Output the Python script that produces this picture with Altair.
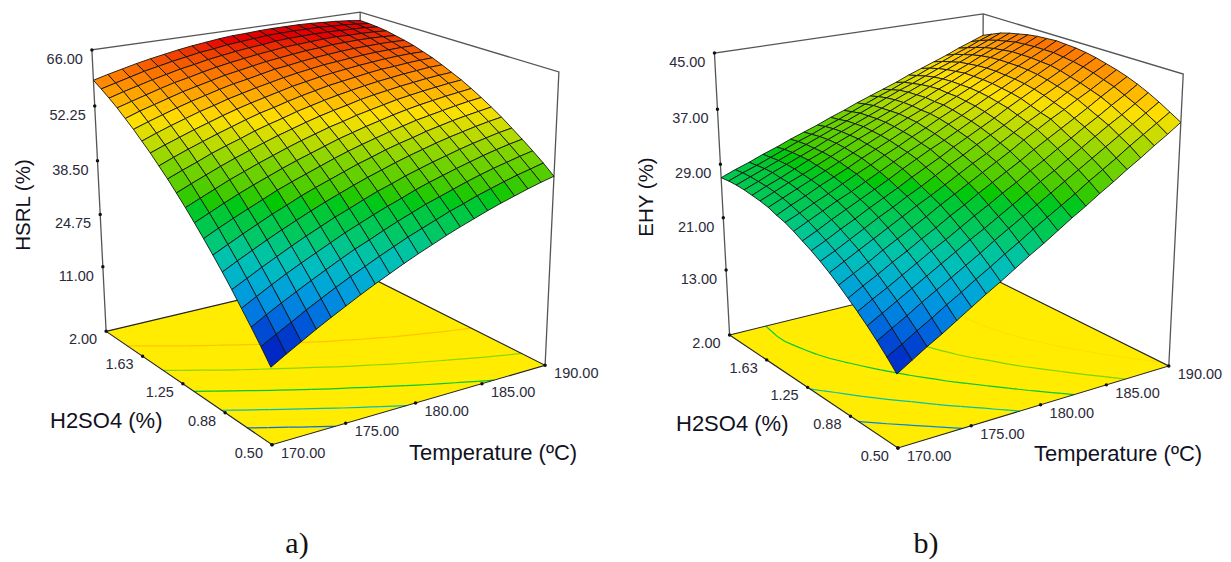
import altair as alt
import numpy as np
import pandas as pd

TEMPS = ["170.00", "175.00", "180.00", "185.00", "190.00"]
ACIDS = ["0.50", "0.88", "1.25", "1.63", "2.00"]
HSRL_TICKS = ["66.00", "52.25", "38.50", "24.75", "11.00"]
EHY_TICKS = ["45.00", "37.00", "29.00", "21.00", "13.00"]
HSRL_LEVELS = [20.52, 29.02, 37.52, 46.02, 54.52]
EHY_LEVELS = [18.72, 23.92, 29.02, 34.02, 39.02]

# rows: H2SO4 0.50 -> 2.00, columns: temperature 170 -> 190
HSRL = [
[12,14.1,16.1,18.1,20,21.8,23.6,25.3,26.9,28.5,30,31.4,32.8,34.1,35.3,36.5,37.6,38.6,39.6,40.5,41.3],
[15.4,17.4,19.3,21.3,23.1,24.9,26.6,28.2,29.8,31.3,32.8,34.1,35.4,36.7,37.8,39.0,40.0,41.0,41.9,42.7,43.5],
[18.6,20.6,22.5,24.3,26.1,27.8,29.5,31.1,32.5,34.0,35.4,36.7,38.0,39.1,40.2,41.3,42.3,43.2,44.0,44.8,45.5],
[21.7,23.6,25.5,27.3,29.0,30.6,32.2,33.8,35.2,36.6,37.9,39.1,40.4,41.5,42.5,43.5,44.4,45.3,46.1,46.8,47.4],
[24.8,26.6,28.4,30.1,31.8,33.4,34.9,36.4,37.7,39.1,40.4,41.5,42.7,43.7,44.7,45.6,46.5,47.3,48.0,48.7,49.2],
[27.7,29.5,31.2,32.9,34.5,36.0,37.5,38.9,40.2,41.5,42.7,43.8,44.9,45.9,46.8,47.7,48.5,49.2,49.9,50.5,51.0],
[30.5,32.2,33.9,35.5,37.1,38.5,40.0,41.3,42.5,43.7,44.9,45.9,47.0,47.9,48.7,49.6,50.3,51.0,51.6,52.1,52.6],
[33.2,34.9,36.5,38.0,39.5,41.0,42.3,43.5,44.7,45.9,47.0,48.0,48.9,49.8,50.6,51.4,52.0,52.6,53.2,53.7,54.1],
[35.8,37.4,39.0,40.5,41.9,43.2,44.5,45.7,46.8,47.9,49.0,49.9,50.8,51.6,52.4,53.1,53.7,54.2,54.7,55.1,55.5],
[38.3,39.8,41.3,42.8,44.1,45.4,46.6,47.8,48.9,49.9,50.9,51.7,52.6,53.3,54.0,54.7,55.2,55.7,56.1,56.5,56.8],
[40.7,42.2,43.6,45.0,46.3,47.5,48.7,49.8,50.8,51.8,52.7,53.5,54.2,55.0,55.6,56.1,56.6,57.0,57.4,57.7,57.9],
[43.0,44.4,45.7,47.1,48.3,49.4,50.6,51.6,52.5,53.5,54.3,55.1,55.8,56.4,57.0,57.5,57.9,58.3,58.6,58.9,59.0],
[45.1,46.5,47.8,49.0,50.2,51.3,52.4,53.4,54.2,55.1,55.9,56.6,57.3,57.8,58.3,58.8,59.2,59.4,59.7,59.9,60.0],
[47.2,48.5,49.7,50.9,52.0,53.1,54.1,55.0,55.8,56.6,57.4,58.0,58.6,59.1,59.5,59.9,60.2,60.5,60.7,60.8,60.8],
[49.1,50.4,51.6,52.7,53.8,54.7,55.7,56.5,57.3,58.0,58.7,59.3,59.8,60.3,60.6,60.9,61.2,61.4,61.5,61.6,61.6],
[51.0,52.2,53.3,54.4,55.4,56.3,57.2,58.0,58.6,59.3,60.0,60.4,60.9,61.3,61.6,61.9,62.1,62.2,62.3,62.3,62.2],
[52.7,53.9,54.9,55.9,56.9,57.7,58.5,59.3,59.9,60.5,61.1,61.5,61.9,62.3,62.5,62.8,62.9,63.0,63.0,62.9,62.7],
[54.4,55.4,56.4,57.4,58.3,59.0,59.8,60.5,61.1,61.6,62.1,62.5,62.9,63.1,63.3,63.5,63.6,63.5,63.5,63.4,63.2],
[55.9,56.9,57.8,58.7,59.5,60.3,60.9,61.6,62.1,62.6,63.0,63.3,63.7,63.9,64.0,64.1,64.1,64.0,63.9,63.8,63.5],
[57.3,58.2,59.1,60.0,60.7,61.4,62.0,62.6,63.0,63.5,63.8,64.1,64.4,64.5,64.6,64.6,64.6,64.4,64.3,64.0,63.7],
[58.6,59.5,60.3,61.1,61.8,62.4,63.0,63.5,63.9,64.3,64.6,64.7,64.9,65.0,65.0,65.0,64.9,64.7,64.5,64.2,63.8],
]
EHY = [
[13.1,14.4,15.7,16.9,18.2,19.5,20.8,22.0,23.3,24.6,25.8,27.1,28.4,29.6,30.9,32.1,33.4,34.6,35.9,37.1,38.4],
[14.6,15.8,17.1,18.3,19.6,20.8,22.1,23.3,24.6,25.8,27.1,28.3,29.5,30.7,32.0,33.2,34.4,35.7,36.9,38.1,39.3],
[16.0,17.2,18.4,19.7,20.9,22.1,23.3,24.5,25.8,27.0,28.2,29.4,30.6,31.8,33.0,34.2,35.4,36.6,37.8,39.0,40.2],
[17.3,18.5,19.7,20.9,22.1,23.3,24.5,25.7,26.8,28.0,29.2,30.4,31.6,32.7,33.9,35.1,36.3,37.5,38.6,39.8,41.0],
[18.5,19.7,20.8,22.0,23.2,24.4,25.5,26.7,27.9,29.0,30.2,31.3,32.5,33.6,34.8,35.9,37.1,38.2,39.4,40.5,41.7],
[19.6,20.8,21.9,23.1,24.2,25.4,26.5,27.7,28.8,30.0,31.1,32.2,33.3,34.5,35.6,36.7,37.8,38.9,40.1,41.2,42.3],
[20.7,21.8,22.9,24.1,25.2,26.3,27.4,28.6,29.7,30.8,31.9,33.0,34.1,35.3,36.4,37.5,38.5,39.6,40.6,41.7,42.8],
[21.7,22.8,23.9,25.0,26.1,27.2,28.3,29.3,30.4,31.5,32.6,33.6,34.7,35.8,36.9,37.9,39.0,40.1,41.1,42.2,43.2],
[22.6,23.6,24.7,25.8,26.9,27.9,29.0,30.0,31.1,32.2,33.2,34.3,35.3,36.3,37.4,38.4,39.5,40.5,41.5,42.6,43.6],
[23.4,24.4,25.5,26.5,27.6,28.6,29.6,30.7,31.7,32.7,33.8,34.8,35.8,36.8,37.9,38.9,39.9,40.9,41.9,42.9,43.9],
[24.1,25.1,26.2,27.2,28.2,29.2,30.2,31.3,32.3,33.3,34.2,35.2,36.2,37.2,38.2,39.2,40.2,41.2,42.2,43.1,44.1],
[24.8,25.8,26.8,27.8,28.7,29.7,30.7,31.7,32.7,33.6,34.6,35.6,36.5,37.5,38.5,39.4,40.4,41.4,42.3,43.3,44.2],
[25.4,26.3,27.3,28.2,29.2,30.2,31.1,32.1,33.0,34.0,34.9,35.9,36.8,37.7,38.7,39.6,40.5,41.5,42.4,43.3,44.3],
[25.8,26.8,27.7,28.7,29.6,30.5,31.5,32.4,33.3,34.2,35.2,36.1,37.0,37.9,38.8,39.7,40.6,41.5,42.4,43.3,44.2],
[26.3,27.2,28.1,29.0,29.9,30.8,31.7,32.6,33.5,34.4,35.3,36.1,37.0,37.9,38.8,39.7,40.6,41.5,42.4,43.2,44.1],
[26.6,27.5,28.4,29.2,30.1,31.0,31.9,32.8,33.6,34.5,35.4,36.2,37.1,38.0,38.8,39.7,40.5,41.4,42.2,43.1,43.9],
[26.8,27.7,28.5,29.4,30.3,31.1,32.0,32.8,33.7,34.5,35.3,36.2,37.0,37.9,38.7,39.5,40.3,41.2,42.0,42.8,43.6],
[27.0,27.8,28.7,29.5,30.3,31.1,32.0,32.8,33.6,34.4,35.2,36.1,36.9,37.7,38.5,39.3,40.1,40.9,41.7,42.5,43.3],
[27.1,27.9,28.7,29.5,30.3,31.1,31.9,32.7,33.5,34.3,35.1,35.9,36.7,37.4,38.2,39.0,39.7,40.5,41.3,42.1,42.9],
[27.1,27.9,28.6,29.4,30.2,31.0,31.7,32.5,33.2,34.0,34.8,35.6,36.3,37.1,37.8,38.6,39.3,40.1,40.8,41.6,42.3],
[27.0,27.8,28.5,29.3,30.0,30.8,31.5,32.2,33.0,33.7,34.5,35.2,35.9,36.6,37.4,38.1,38.8,39.5,40.3,41.0,41.7],
]

# camera calibration of each 3-D box: (t, s, w) unit-cube corner -> page position
CUBE = [(0,0,0),(1,0,0),(0,1,0),(1,1,0),(0,1,1),(1,1,1),(1,0,1)]
CAM_A = [(272,445),(545,365),(106,331),(359,272),(92,50),(360,12),(559,72)]
CAM_B = [(898,448),(1168,366),(729,335),(983,273),(715,53),(982,14),(1184,74)]

STOPS = [0, .1, .2, .3, .4, .5, .62, .75, .87, .96, 1]
COLORS = ["#0000b8", "#0040d0", "#0090e0", "#00bcc0", "#00c860", "#00c800",
          "#80d400", "#ffe000", "#ff8000", "#e80000", "#d80000"]
PROJ = dict(type="identity", scale=1, translate=[-8, -8])


def camera(pix):
    a, b = [], []
    for (x, y, z), (u, v) in zip(CUBE, pix):
        a.append([x, y, z, 1, 0, 0, 0, 0, -u*x, -u*y, -u*z]); b.append(u)
        a.append([0, 0, 0, 0, x, y, z, 1, -v*x, -v*y, -v*z]); b.append(v)
    p = np.linalg.lstsq(np.array(a, float), np.array(b, float), rcond=None)[0]
    return np.append(p, 1).reshape(3, 4)


def line_feature(points, c=0.0):
    return {"type": "Feature", "properties": {"c": c},
            "geometry": {"type": "LineString", "coordinates": points}}


def geo(features, **mark):
    return alt.Chart(alt.InlineData(values=features)).mark_geoshape(**mark).project(**PROJ)


def text(rows, **mark):
    df = pd.DataFrame(rows, columns=["x", "y", "label"])
    return alt.Chart(df).mark_text(font="Liberation Sans", **mark).encode(
        longitude="x:Q", latitude="y:Q", text="label:N").project(**PROJ)


COLOR_SCALE = alt.Scale(domain=STOPS, range=COLORS)


def panel(table, levels, ticks, pix, z0, ztop, zmin, zmax, ytitle, ytitle_pos, xt_pos, at_pos):
    P = camera(pix)

    def pt(t, s, z):
        w = (z - z0) / (ztop - z0)
        q = P @ np.array([t, s, w, 1.0])
        return [round(float(q[0] / q[2]), 2), round(float(q[1] / q[2]), 2)]

    Z = np.array(table, float)
    n = Z.shape[0] - 1
    norm = lambda v: float((v - zmin) / (zmax - zmin))

    floor = [pt(0, 0, z0), pt(1, 0, z0), pt(1, 1, z0), pt(0, 1, z0), pt(0, 0, z0)]
    floor_f = [{"type": "Feature", "properties": {},
                "geometry": {"type": "Polygon", "coordinates": [floor]}}]

    # contour lines on the floor, from the table
    segs = []
    for lev in levels:
        for j in range(n):
            for k in range(n):
                corners = [(k, j), (k+1, j), (k+1, j+1), (k, j+1)]
                cross = []
                for a in range(4):
                    (k1, j1), (k2, j2) = corners[a], corners[(a+1) % 4]
                    v1, v2 = Z[j1, k1], Z[j2, k2]
                    if (v1 - lev) * (v2 - lev) < 0:
                        f = (lev - v1) / (v2 - v1)
                        cross.append(pt((k1 + f*(k2-k1))/n, (j1 + f*(j2-j1))/n, z0))
                if len(cross) >= 2:
                    segs.append(line_feature(cross[:2], norm(lev)))

    cells = []
    for j in range(n-1, -1, -1):
        for k in range(n-1, -1, -1):
            ring = [pt(k/n, j/n, Z[j, k]), pt((k+1)/n, j/n, Z[j, k+1]),
                    pt((k+1)/n, (j+1)/n, Z[j+1, k+1]), pt(k/n, (j+1)/n, Z[j+1, k]),
                    pt(k/n, j/n, Z[j, k])]
            cells.append({"type": "Feature",
                          "properties": {"c": norm(Z[j:j+2, k:k+2].mean())},
                          "geometry": {"type": "Polygon", "coordinates": [ring]}})

    box = [line_feature([pt(0, 1, z0), pt(0, 1, ztop), pt(1, 1, ztop), pt(1, 0, ztop), pt(1, 0, z0)]),
           line_feature([pt(1, 1, ztop), pt(1, 1, z0)])]
    edges = [line_feature([pt(0, 1, z0), pt(0, 0, z0), pt(1, 0, z0), pt(1, 1, z0), pt(0, 1, z0)])]

    tick_rows, ztext, atext, ttext = [], [], [], []
    for lab in ticks:
        x, y = pt(0, 1, float(lab))
        tick_rows.append((x, y)); ztext.append((x - 9, y + 10, lab))
    for lab in ACIDS:
        x, y = pt(0, (float(lab) - .5) / 1.5, z0)
        tick_rows.append((x, y)); atext.append((x - 9, y + 9, lab))
    for lab in TEMPS:
        x, y = pt((float(lab) - 170) / 20, 0, z0)
        tick_rows.append((x, y)); ttext.append((x + 9, y + 9, lab))
    tick_df = pd.DataFrame(tick_rows, columns=["x", "y"])

    return [
        geo(box, filled=False, stroke="#555555", strokeWidth=1.3),
        geo(floor_f, fill="#ffec00", stroke=None),
        geo(segs, filled=False, strokeWidth=1.2).encode(
            stroke=alt.Stroke("properties.c:Q", scale=COLOR_SCALE, legend=None)),
        geo(edges, filled=False, stroke="#222222", strokeWidth=1.1),
        geo(cells, stroke="#141414", strokeWidth=0.9).encode(
            fill=alt.Fill("properties.c:Q", scale=COLOR_SCALE, legend=None)),
        alt.Chart(tick_df).mark_circle(color="#111111", size=12, opacity=1).encode(
            longitude="x:Q", latitude="y:Q").project(**PROJ),
        text(ztext, align="right", baseline="middle", fontSize=14.5, color="#2a2a3a"),
        text(atext, align="right", baseline="middle", fontSize=14.5, color="#2a2a3a"),
        text(ttext, align="left", baseline="middle", fontSize=14.5, color="#2a2a3a"),
        text([(*ytitle_pos, ytitle)], align="center", baseline="middle", angle=270, fontSize=20.5, color="#111122"),
        text([(*xt_pos, "Temperature (ºC)")], align="left", baseline="middle", fontSize=22, color="#111122"),
        text([(*at_pos, "H2SO4 (%)")], align="left", baseline="middle", fontSize=22, color="#111122"),
    ]


layers = []
layers += panel(HSRL, HSRL_LEVELS, HSRL_TICKS, CAM_A, -6.4, 66, 12, 66, "HSRL (%)", (24, 205), (409, 453), (50, 421))
layers += panel(EHY, EHY_LEVELS, EHY_TICKS, CAM_B, 2.8, 45, 12, 48, "EHY (%)", (647, 197), (1034, 454), (676, 424))

cap = pd.DataFrame([(297, 544, "a)"), (926, 544, "b)")], columns=["x", "y", "label"])
layers.append(alt.Chart(cap).mark_text(font="Liberation Serif", fontSize=30, color="#111111",
                                       align="center", baseline="middle").encode(
    longitude="x:Q", latitude="y:Q", text="label:N").project(**PROJ))

chart = alt.layer(*layers).properties(
    width=1215, height=553, padding=0, background="white"
).resolve_scale(fill="shared", stroke="shared").configure_view(stroke=None)

chart.save("out.html", embed_options={"renderer": "svg", "actions": False})
